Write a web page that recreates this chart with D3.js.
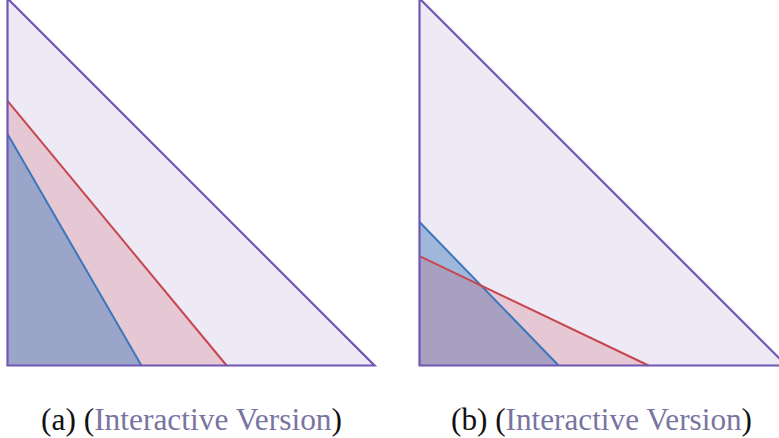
<!DOCTYPE html>
<html>
<head>
<meta charset="utf-8">
<script src="https://cdn.jsdelivr.net/npm/d3@7"></script>
<style>
  html, body { margin: 0; padding: 0; background: #fff; overflow: hidden; }
</style>
</head>
<body>
<div id="chart"></div>
<script>
// two panels, each a unit simplex x + y <= 1
const panelLabels = ["(a)", "(b)"];
const linkText = "Interactive Version";
const simplex = [[0, 0], [1, 0], [0, 1]];

// where each half-plane boundary meets the axes: [x-intercept, y-intercept]
const redX = [0.597, 0.624];
const redY = [0.721, 0.298];
const blueX = [0.365, 0.379];
const blueY = [0.631, 0.391];

// which colour sits on top in each panel
const topLayer = ["blue", "red"];

window.onload = () => {
    const w = 779, h = 438;
    const svg = d3.select("#chart").append("svg")
        .attr("width", w)
        .attr("height", h);

    const panelLeft = [7.5, 419.5],
        panelSize = 367,
        bottom = 365.5,
        captionShift = [0.5, -1.5];

    const colors = {
        purple: "#7156b4",
        red: "#c8464f",
        blue: "#3a77bb"
    };

    panelLabels.forEach((label, i) => {
        const x = d3.scaleLinear().domain([0, 1]).range([panelLeft[i], panelLeft[i] + panelSize]);
        const y = d3.scaleLinear().domain([0, 1]).range([bottom, bottom - panelSize]);
        const line = d3.line().x(d => x(d[0])).y(d => y(d[1]));

        const g = svg.append("g");

        g.append("path")
            .attr("d", line(simplex) + "Z")
            .attr("fill", colors.purple)
            .attr("fill-opacity", 0.13);

        const regions = {
            red: [[0, 0], [redX[i], 0], [0, redY[i]]],
            blue: [[0, 0], [blueX[i], 0], [0, blueY[i]]]
        };
        const order = topLayer[i] === "blue" ? ["red", "blue"] : ["blue", "red"];

        order.forEach(k => {
            g.append("path")
                .attr("d", line(regions[k]) + "Z")
                .attr("fill", colors[k])
                .attr("fill-opacity", k === "red" ? 0.2 : 0.43);
        });
        order.forEach(k => {
            g.append("path")
                .attr("d", line(regions[k].slice(1)))
                .attr("fill", "none")
                .attr("stroke", colors[k])
                .attr("stroke-width", 2);
        });

        g.append("path")
            .attr("d", line(simplex) + "Z")
            .attr("fill", "none")
            .attr("stroke", colors.purple)
            .attr("stroke-width", 2.2);

        const txt = svg.append("text")
            .attr("x", x(0.5) + captionShift[i])
            .attr("y", 430)
            .attr("text-anchor", "middle")
            .attr("font-family", "'Liberation Serif', 'DejaVu Serif', serif")
            .attr("font-size", 32)
            .attr("textLength", 301)
            .attr("lengthAdjust", "spacingAndGlyphs")
            .attr("fill", "#111");
        txt.append("tspan").text(label + " (");
        txt.append("tspan").attr("fill", "#7975a1").text(linkText);
        txt.append("tspan").text(")");
    });
};
</script>
</body>
</html>
